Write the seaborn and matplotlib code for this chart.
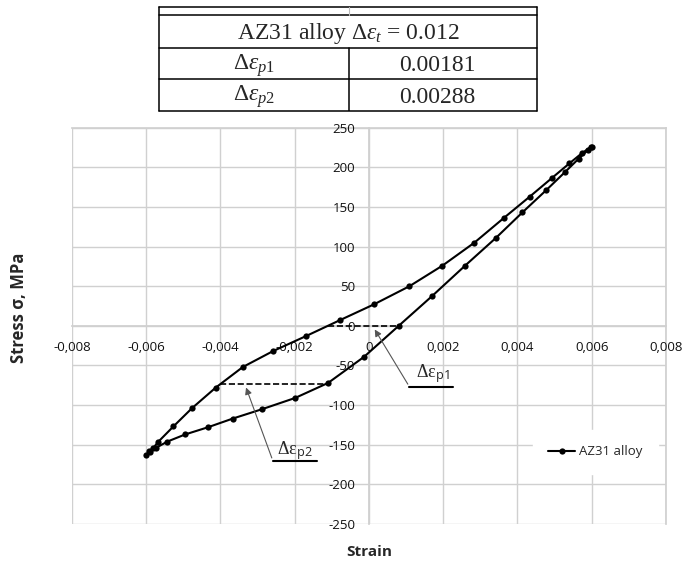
import matplotlib
matplotlib.use("Agg")
import matplotlib.pyplot as plt
from matplotlib.ticker import FuncFormatter, MultipleLocator
import numpy as np
import pandas as pd
import seaborn as sns

# hysteresis loop: lower branch going down, then upper branch going up
strain = [0.00600, 0.00590, 0.00565, 0.00528, 0.00477, 0.00413, 0.00342, 0.00259,
          0.00171, 0.00080, -0.00013, -0.00110, -0.00199, -0.00287, -0.00367,
          -0.00434, -0.00495, -0.00543, -0.00574, -0.00590, -0.00600,
          -0.00592, -0.00581, -0.00567, -0.00527, -0.00477, -0.00413, -0.00340,
          -0.00259, -0.00170, -0.00079, 0.00013, 0.00109, 0.00198, 0.00284,
          0.00363, 0.00433, 0.00494, 0.00540, 0.00574, 0.00599]
stress = [226, 222, 211, 194, 171, 143, 111, 76,
          38, 0, -39, -72, -91, -105, -117,
          -128, -137, -146, -154, -159, -163,
          -158, -154, -146, -127, -104, -78, -52,
          -32, -13, 7, 27, 50, 76, 105,
          136, 163, 187, 205, 218, 226]

# plastic strain widths (dashed lines) at zero stress and at the lower level
p1_strain = [-0.00111, 0.00080]
p1_stress = [0, 0]
p2_strain = [-0.00401, -0.00110]
p2_stress = [-73, -73]

table_title = r"AZ31 alloy $\Delta\varepsilon_t$ = 0.012"
table_names = [r"$\Delta\varepsilon_{p1}$", r"$\Delta\varepsilon_{p2}$"]
table_values = ["0.00181", "0.00288"]

df = pd.DataFrame({"strain": strain, "stress": stress})

sns.set_theme(style="white")
plt.rcParams["font.family"] = ["Open Sans", "DejaVu Sans"]
plt.rcParams["mathtext.fontset"] = "custom"
plt.rcParams["mathtext.rm"] = "Liberation Serif"
plt.rcParams["mathtext.it"] = "Liberation Serif:italic"
plt.rcParams["mathtext.bf"] = "Liberation Serif:bold"
plt.rcParams["mathtext.sf"] = "Open Sans"
plt.rcParams["axes.unicode_minus"] = False

fig = plt.figure(figsize=(6.97, 5.63), dpi=100)
ax = fig.add_axes([0.1033, 0.0693, 0.8522, 0.7039])

grid_c = "#d0d0d0"
ax.set_xlim(-0.008, 0.008)
ax.set_ylim(-250, 250)
ax.xaxis.set_major_locator(MultipleLocator(0.002))
ax.yaxis.set_major_locator(MultipleLocator(50))
ax.grid(True, color=grid_c, linewidth=1.0)
ax.set_axisbelow(True)

for side in ["left", "bottom"]:
    ax.spines[side].set_position(("data", 0))
for side in ax.spines:
    ax.spines[side].set_color(grid_c)
    ax.spines[side].set_zorder(0.5)

ax.xaxis.set_major_formatter(FuncFormatter(
    lambda v, p: "0" if abs(v) < 1e-9 else f"{v:.3f}".replace(".", ",")))
ax.yaxis.set_major_formatter(FuncFormatter(lambda v, p: f"{int(round(v))}"))
ax.tick_params(axis="x", length=0, pad=11, labelsize=9.5, colors="#111111")
ax.tick_params(axis="y", length=0, pad=10, labelsize=9.5, colors="#111111")

sns.lineplot(data=df, x="strain", y="stress", sort=False, estimator=None,
             color="black", linewidth=1.5, marker="o", markersize=4.5,
             markeredgewidth=0, label="AZ31 alloy", ax=ax, zorder=3)

ax.plot(p1_strain, p1_stress, color="black", linestyle="--", linewidth=1.2, zorder=3)
ax.plot(p2_strain, p2_stress, color="black", linestyle="--", linewidth=1.2, zorder=3)

# arrows and underlined labels
ax.annotate("", xy=(0.000116, -1.6), xytext=(0.001085, -76.6),
            arrowprops=dict(arrowstyle="-|>", color="#555555", lw=0.8, mutation_scale=10))
ax.plot([0.001085, 0.002253], [-76.6, -76.6], color="black", linewidth=1.5)
ax.text(0.00172, -60, r"$\Delta\mathrm{ε}_{\mathsf{p1}}$", fontsize=13,
        ha="center", va="center")

ax.annotate("", xy=(-0.003338, -74.5), xytext=(-0.002592, -170),
            arrowprops=dict(arrowstyle="-|>", color="#555555", lw=0.8, mutation_scale=10))
ax.plot([-0.002592, -0.001408], [-170, -170], color="black", linewidth=1.5)
ax.text(-0.00199, -157, r"$\Delta\mathrm{ε}_{\mathsf{p2}}$", fontsize=13,
        ha="center", va="center")

ax.set_xlabel("Strain", fontsize=11, fontweight="bold")
ax.set_ylabel("Stress σ, MPa", fontsize=12, fontweight="bold")
ax.xaxis.set_label_coords(0.5, -0.053)
ax.yaxis.set_label_coords(-0.074, 0.546)

leg = ax.legend(loc="center", bbox_to_anchor=(0.881, 0.182), frameon=True,
                fancybox=False, edgecolor="white", facecolor="white", framealpha=1,
                fontsize=9.5, handlelength=2.0, borderpad=1.2, handletextpad=0.3)

# table above the chart
tax = fig.add_axes([0.2286, 0.8028, 0.5423, 0.1847])
tax.set_xlim(0, 1)
tax.set_ylim(0, 1)
tax.axis("off")
rows = [1.0, 0.926, 0.6075, 0.3086, 0.0]
mid = 0.502
for r in rows:
    tax.plot([0, 1], [r, r], color="black", linewidth=1.1, clip_on=False)
tax.plot([0, 0], [0, 1], color="black", linewidth=1.1, clip_on=False)
tax.plot([1, 1], [0, 1], color="black", linewidth=1.1, clip_on=False)
tax.plot([mid, mid], [rows[1], rows[0]], color="#bbbbbb", linewidth=0.8)
tax.plot([mid, mid], [0, rows[2]], color="black", linewidth=1.1)
serif = ["Liberation Serif", "DejaVu Serif"]
tax.text(0.5, (rows[1] + rows[2]) / 2 - 0.02, table_title, family=serif,
         fontsize=17, ha="center", va="center")
for i, (name, val) in enumerate(zip(table_names, table_values)):
    yc = (rows[i + 2] + rows[i + 3]) / 2 - 0.02
    tax.text(mid / 2, yc, name, family=serif, fontsize=17, ha="center", va="center")
    tax.text((mid + 1) / 2 - 0.015, yc, val, family=serif, fontsize=17,
             ha="center", va="center")

fig.savefig("out.png", dpi=100)
